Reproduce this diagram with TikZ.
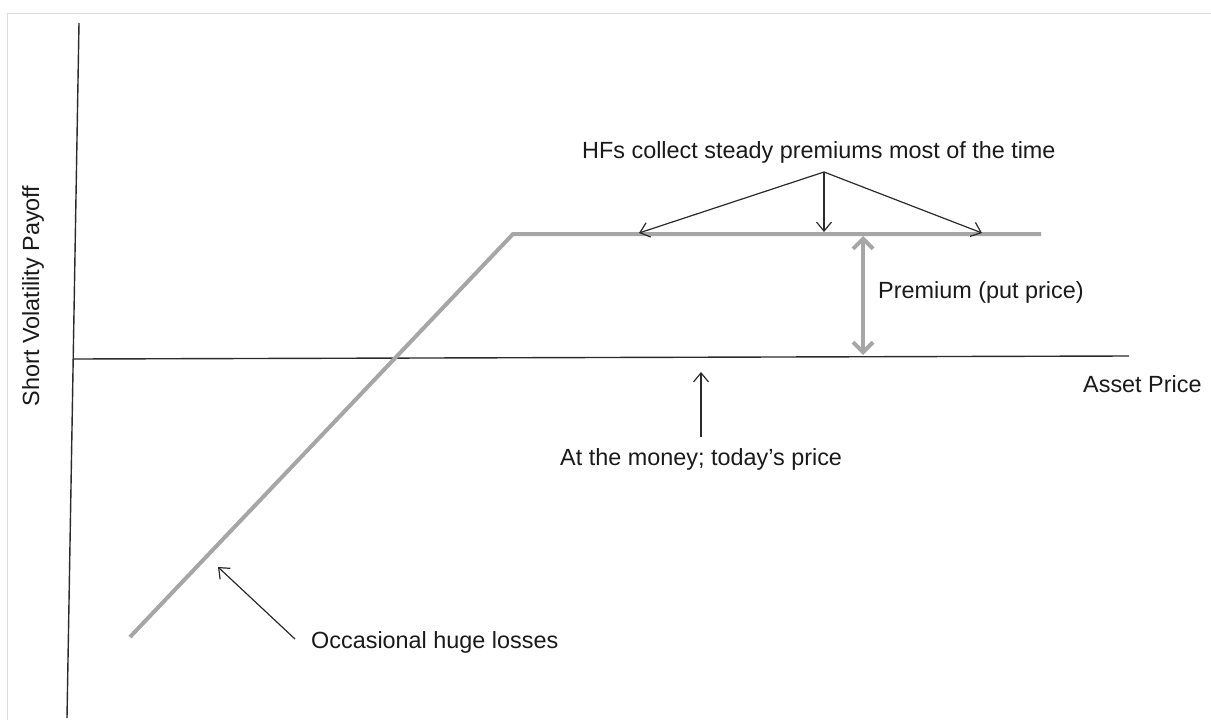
\documentclass[tikz,border=0pt]{standalone}
\usepackage{fontspec}
\setmainfont{Liberation Sans}
\usetikzlibrary{arrows.meta}
\definecolor{payoffgray}{HTML}{A6A6A6}
\definecolor{axisdark}{HTML}{2B2B2B}
\definecolor{framegray}{HTML}{DDDDDD}
\definecolor{txt}{HTML}{1A1A1A}
\begin{document}
\begin{tikzpicture}[x=1pt,y=-1pt,
  lbl/.style={anchor=base west,inner sep=0pt,text=txt,font=\fontsize{23.4}{28}\selectfont},
  axisline/.style={draw=axisdark,line width=1.4pt},
  payoff/.style={draw=payoffgray,line width=4pt},
  pointer/.style={draw=axisdark,line width=1.2pt,-{Straight Barb[length=9pt,width=15pt]}},
  premarrow/.style={draw=payoffgray,line width=4pt,{Straight Barb[length=10pt,width=20pt]}-{Straight Barb[length=10pt,width=20pt]}}]
\useasboundingbox (0,0) rectangle (1211,720);
\fill[white] (0,0) rectangle (1211,720);
% frame
\draw[framegray,line width=1pt] (7,720) -- (7,13) -- (1211,13);
% axes
\coordinate (ytop) at (79,23);
\coordinate (ybot) at (67,718);
\coordinate (xleft) at (74,359);
\coordinate (xright) at (1129,356);
\draw[axisline] (ytop) -- (ybot);
\draw[axisline] (xleft) -- (xright);
% payoff
\coordinate (p1) at (130,637);
\coordinate (p2) at (513,234);
\coordinate (p3) at (1041,234);
\draw[payoff,line cap=butt,line join=miter] (p1) -- (p2) -- (p3);
% premium arrow
\coordinate (prtop) at (863,236);
\coordinate (prbot) at (863,355);
\draw[premarrow] (prtop) -- (prbot);
% labels
\node[lbl] (hfs) at (582,158) {HFs collect steady premiums most of the time};
\node[lbl] (asset) at (1083,392) {Asset Price};
\node[lbl] (prem) at (878,298) {Premium (put price)};
\node[lbl] (atm) at (560,465) {At the money; today’s price};
\node[lbl] (occ) at (311,648) {Occasional huge losses};
\node[anchor=center,inner sep=0pt,text=txt,font=\fontsize{23.4}{28}\selectfont,rotate=90] (ylab) at (33,296) {Short Volatility Payoff};
% pointers
\coordinate (apex) at (824,172);
\coordinate (tl) at (639,233);
\coordinate (tm) at (824,232);
\coordinate (tr) at (982,233);
\draw[pointer] (apex) -- (tl);
\draw[pointer] (apex) -- (tm);
\draw[pointer] (apex) -- (tr);
\coordinate (atmfoot) at (701,437);
\coordinate (atmtip) at (701,372);
\draw[pointer] (atmfoot) -- (atmtip);
\coordinate (occfoot) at (295,639);
\coordinate (occtip) at (218,567);
\draw[pointer] (occfoot) -- (occtip);
\end{tikzpicture}
\end{document}
